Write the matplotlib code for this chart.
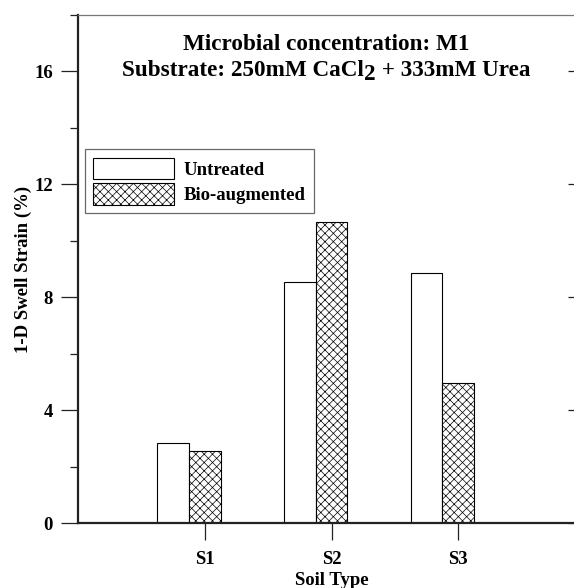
import matplotlib
matplotlib.use('Agg')
import matplotlib.pyplot as plt
import matplotlib.ticker as ticker
import numpy as np

plt.rcParams['font.family'] = ['Liberation Serif', 'DejaVu Serif']
plt.rcParams['font.weight'] = 'bold'
plt.rcParams['hatch.linewidth'] = 0.5

soil_types = ['S1', 'S2', 'S3']
untreated = [2.85, 8.54, 8.85]
bio_augmented = [2.55, 10.68, 4.96]
y_ticks = [0, 4, 8, 12, 16]

dark = '#222222'


def plot():
    fig = plt.figure(figsize=(5.74, 5.88), dpi=100)
    ax = fig.add_axes([78 / 574, 1 - 523.3 / 588, 507 / 574, 508.3 / 588])

    x = np.arange(1, len(soil_types) + 1)
    w = 0.25
    ax.bar(x - w, untreated, width=w, color='white', edgecolor='black',
           linewidth=0.8, label='Untreated')
    ax.bar(x, bio_augmented, width=w, color='white', edgecolor='black',
           linewidth=0.8, hatch='xxxx', label='Bio-augmented')

    ax.set_xlim(0, 4)
    ax.set_ylim(0, 18)
    ax.set_xticks(x)
    ax.set_xticklabels(soil_types)
    ax.set_yticks(y_ticks)
    ax.yaxis.set_minor_locator(ticker.MultipleLocator(2))

    ax.tick_params(axis='both', which='major', direction='out', length=12,
                   width=0.9, color=dark, labelsize=13.5)
    ax.tick_params(axis='x', pad=8)
    ax.tick_params(axis='y', pad=6)
    ax.tick_params(axis='y', which='minor', direction='out', length=6,
                   width=0.9, color=dark)
    # inward major ticks on right side
    ax2 = ax.twinx()
    ax2.set_ylim(ax.get_ylim())
    ax2.set_yticks(y_ticks)
    ax2.tick_params(axis='y', direction='in', length=12, width=0.9,
                    color=dark, labelright=False)
    for s in ['left', 'right', 'top', 'bottom']:
        ax2.spines[s].set_visible(False)

    ax.spines['left'].set_linewidth(1.6)
    ax.spines['left'].set_color(dark)
    ax.spines['bottom'].set_linewidth(1.6)
    ax.spines['bottom'].set_color(dark)
    ax.spines['top'].set_linewidth(0.9)
    ax.spines['top'].set_color('#777777')
    ax.spines['right'].set_visible(False)

    ax.set_ylabel('1-D Swell Strain (%)', fontsize=13.5, fontweight='bold')
    ax.yaxis.set_label_coords(-46 / 507, 0.5)
    ax.set_xlabel('Soil Type', fontsize=13.5, fontweight='bold', labelpad=3)

    leg = ax.legend(loc='upper left', bbox_to_anchor=(7 / 507, (523.3 - 149.3) / 508.3),
                    fontsize=13.5, frameon=True, fancybox=False,
                    handlelength=4.3, handleheight=1.4, handletextpad=0.5,
                    borderpad=0.45, labelspacing=0.2, borderaxespad=0)
    leg.get_frame().set_edgecolor('#444444')
    leg.get_frame().set_linewidth(0.9)

    # title lines
    tsize = 16.7
    fig.text(326 / 574, 1 - 49.5 / 588, 'Microbial concentration: M1',
             ha='center', va='baseline', fontsize=tsize, fontweight='bold')
    parts = ['Substrate: 250mM CaCl', '2', ' + 333mM Urea']
    r = fig.canvas.get_renderer()
    widths = []
    for p in parts:
        t = fig.text(0, 0, p, fontsize=tsize, fontweight='bold')
        widths.append(t.get_window_extent(renderer=r).width)
        t.remove()
    x0 = 326 - sum(widths) / 2
    base = 76
    offs = [0, 4, 0]
    for p, wd, o in zip(parts, widths, offs):
        fig.text(x0 / 574, 1 - (base + o) / 588, p, ha='left', va='baseline',
                 fontsize=tsize, fontweight='bold')
        x0 += wd

    fig.savefig('out.png', dpi=100)


def main():
    plot()


if __name__ == '__main__':
    main()
